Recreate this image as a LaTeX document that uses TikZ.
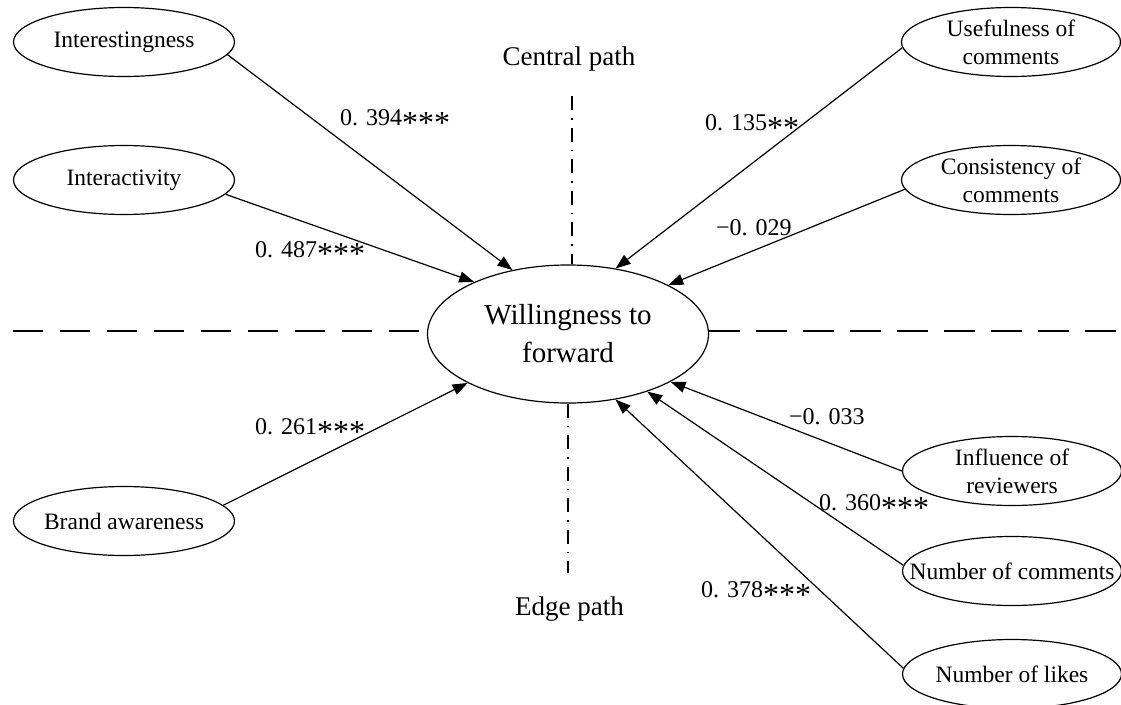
\documentclass[tikz,border=0pt]{standalone}
\usepackage{fontspec}
\setmainfont{Liberation Serif}
\usetikzlibrary{shapes.geometric,arrows.meta}
\newcommand\sigstars[1]{\raisebox{-7.5pt}{\fontsize{32}{32}\selectfont #1}}
\begin{document}
\begin{tikzpicture}[x=1pt,y=-1pt,
  every node/.style={inner sep=0pt},
  var/.style={ellipse,draw,line width=1.2pt,minimum width=221pt,minimum height=69pt,
    inner xsep=-90pt,inner ysep=-40pt,align=center,font=\fontsize{23.5}{28}\selectfont},
  core/.style={ellipse,draw,line width=1.2pt,minimum width=281pt,minimum height=138pt,
    inner xsep=-100pt,inner ysep=-60pt,align=center,font=\fontsize{29}{38}\selectfont},
  lbl/.style={anchor=base west,font=\fontsize{24}{28}\selectfont},
  ttl/.style={anchor=base,font=\fontsize{27}{30}\selectfont},
  arr/.style={line width=1.2pt,-{Triangle[length=15pt,width=11pt]}},
  sep/.style={line width=1.2pt,dash pattern=on 30pt off 17pt},
  axis/.style={line width=1.2pt,dash pattern=on 14pt off 8pt on 1.5pt off 8pt}
]
\useasboundingbox (0,0) rectangle (1121,704);

% central node
\node[core] (c) at (568,334) {Willingness to\\forward};

% left nodes
\node[var] (i1) at (124,42) {Interestingness};
\node[var] (i2) at (124,180) {Interactivity};
\node[var] (b1) at (124,521) {Brand awareness};

% right nodes
\node[var,minimum width=219pt] (u1) at (1011,42) {Usefulness of\\comments};
\node[var,minimum width=219pt] (u2) at (1011,180) {Consistency of\\comments};
\node[var,minimum width=219pt] (r1) at (1012,471) {Influence of\\reviewers};
\node[var,minimum width=219pt] (r2) at (1012,571) {Number of comments};
\node[var,minimum width=219pt] (r3) at (1012,674) {Number of likes};

% titles
\node[ttl] (tc) at (569,65) {Central path};
\node[ttl] (te) at (569.5,615) {Edge path};

% separators
\coordinate (hl) at (13,331);
\coordinate (hr) at (1117,331);
\coordinate (vt) at (572,96);
\coordinate (vb) at (568,573);
\draw[sep] (hl) -- (hl -| c.west);
\draw[line width=1.2pt,dash pattern=on 31pt off 16pt] (hl -| c.east) -- (hr);
\draw[axis] (vt) -- (vt |- c.north);
\draw[axis] (c.south) -- (vb);

% arrows
\draw[arr] (i1.-7) -- (c.131);
\draw[arr] (i2.-8) -- (c.151);
\draw[arr] (u1.183) -- (c.54.5);
\draw[arr] (u2.185) -- (c.26);
\draw[arr] (b1.9) -- (c.206.5);
\draw[arr] (r1.180) -- (c.-25);
\draw[arr] (r2.177) -- (c.-36);
\draw[arr] (r3.177) -- (c.-54.5);

% coefficients
\node[lbl] (l1) at (340,125.5) {0. 394\sigstars{***}};
\node[lbl] (l2) at (255,257) {0. 487\sigstars{***}};
\node[lbl] (l3) at (705,130.5) {0. 135\sigstars{**}};
\node[lbl] (l4) at (716,235.5) {−0. 029};
\node[lbl] (l5) at (255,434.5) {0. 261\sigstars{***}};
\node[lbl] (l6) at (789,424.5) {−0. 033};
\node[lbl] (l7) at (819,510.5) {0. 360\sigstars{***}};
\node[lbl] (l8) at (701,597.5) {0. 378\sigstars{***}};
\end{tikzpicture}
\end{document}
